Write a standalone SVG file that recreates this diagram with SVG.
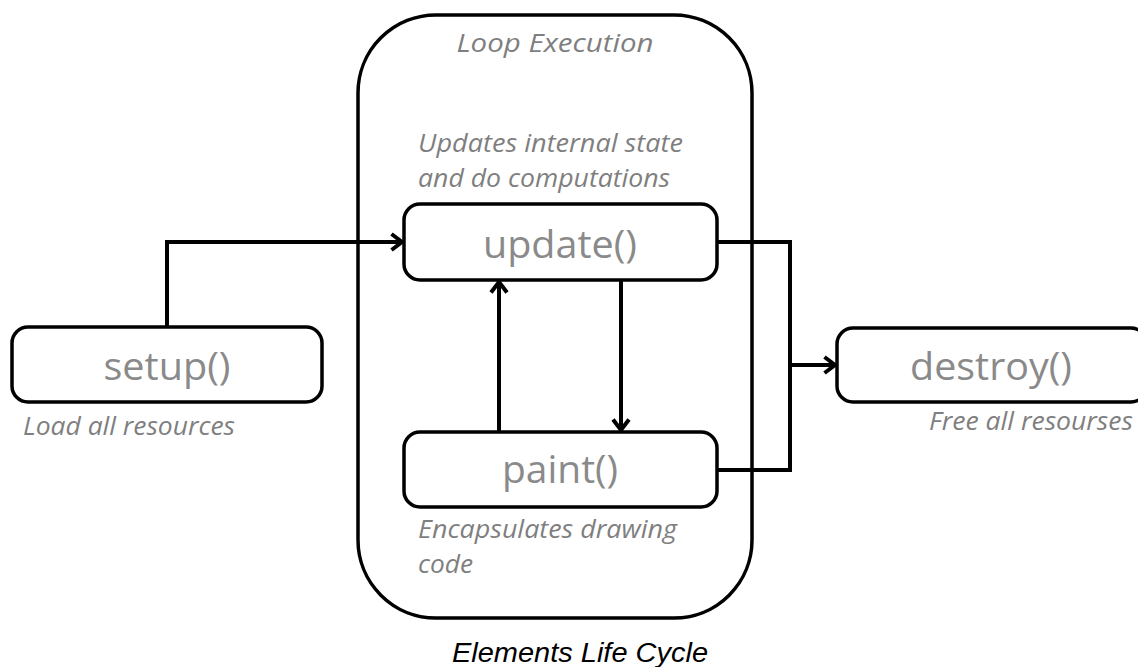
<svg xmlns="http://www.w3.org/2000/svg" width="1138" height="667" viewBox="0 0 1138 667">
<style>
.box{fill:#fff;stroke:#000;stroke-width:3.5}
.fn{font-family:"Open Sans","Liberation Sans",sans-serif;font-size:38px;fill:#8a8a8a;text-anchor:middle}
.lbl{font-family:"Open Sans","Liberation Sans",sans-serif;font-size:25px;font-style:italic;fill:#7f7f7f}
.cap{font-family:"Liberation Sans",Arial,sans-serif;font-size:27px;font-style:italic;fill:#000;text-anchor:middle}
.con{fill:none;stroke:#000;stroke-width:4}
</style>
<defs>
<marker id="arr" viewBox="0 0 14 20" refX="12" refY="10" markerWidth="14" markerHeight="20" markerUnits="userSpaceOnUse" orient="auto">
<path d="M1.5,2 L12,10 L1.5,18" fill="none" stroke="#000" stroke-width="4"/>
</marker>
</defs>
<rect width="1138" height="667" fill="#fff"/>
<g id="loop">
<rect class="box" x="358" y="15" width="394" height="603" rx="78" ry="78"/>
<text class="lbl" x="555" y="52" text-anchor="middle" textLength="197" lengthAdjust="spacingAndGlyphs">Loop Execution</text>
</g>
<g id="connectors">
<path class="con" d="M167,327 V242 H402" marker-end="url(#arr)"/>
<path class="con" d="M717,242 H790 V470 H717"/>
<path class="con" d="M790,365 H835" marker-end="url(#arr)"/>
<path class="con" d="M621,280 V430" marker-end="url(#arr)"/>
<path class="con" d="M499,432 V282" marker-end="url(#arr)"/>
</g>
<g id="update">
<rect class="box" x="404" y="204" width="313" height="76" rx="16" ry="16"/>
<text class="fn" x="560" y="258" textLength="154" lengthAdjust="spacingAndGlyphs">update()</text>
<text class="lbl" x="418" y="152" textLength="265" lengthAdjust="spacingAndGlyphs">Updates internal state</text>
<text class="lbl" x="418" y="187" textLength="252" lengthAdjust="spacingAndGlyphs">and do computations</text>
</g>
<g id="paint">
<rect class="box" x="404" y="432" width="313" height="75" rx="16" ry="16"/>
<text class="fn" x="560" y="483" textLength="116" lengthAdjust="spacingAndGlyphs">paint()</text>
<text class="lbl" x="418" y="538" textLength="259" lengthAdjust="spacingAndGlyphs">Encapsulates drawing</text>
<text class="lbl" x="418" y="573" textLength="55" lengthAdjust="spacingAndGlyphs">code</text>
</g>
<g id="setup">
<rect class="box" x="12" y="327" width="310" height="75" rx="16" ry="16"/>
<text class="fn" x="167" y="380" textLength="127" lengthAdjust="spacingAndGlyphs">setup()</text>
<text class="lbl" x="23" y="435" textLength="212" lengthAdjust="spacingAndGlyphs">Load all resources</text>
</g>
<g id="destroy">
<rect class="box" x="837" y="328" width="310" height="74" rx="16" ry="16"/>
<text class="fn" x="991" y="380" textLength="162" lengthAdjust="spacingAndGlyphs">destroy()</text>
<text class="lbl" x="929" y="430" textLength="204" lengthAdjust="spacingAndGlyphs">Free all resourses</text>
</g>
<text class="cap" x="580" y="662" textLength="256" lengthAdjust="spacingAndGlyphs">Elements Life Cycle</text>
</svg>
